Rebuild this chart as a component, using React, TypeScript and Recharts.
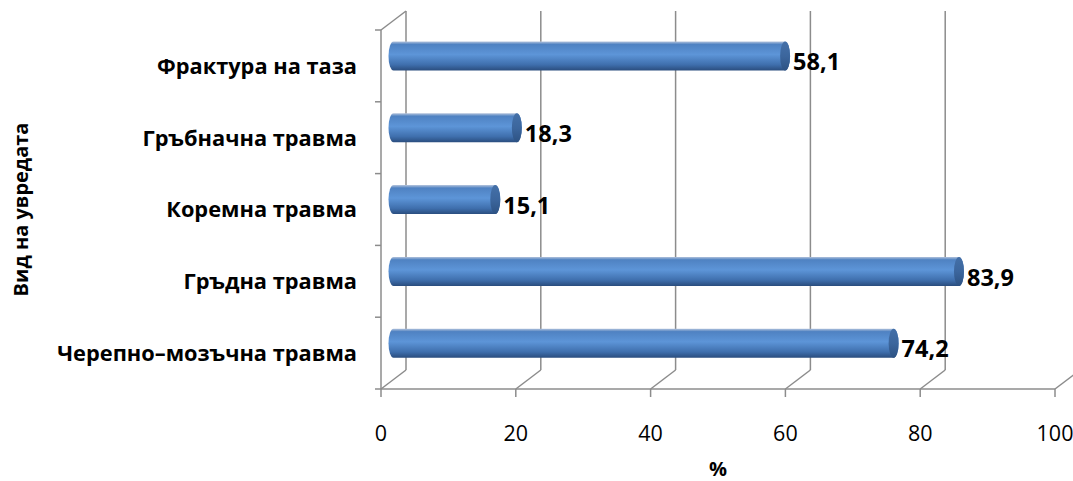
import { BarChart, Bar, XAxis, YAxis, CartesianGrid, LabelList } from 'recharts';

const injuries = [
  'Фрактура на таза',
  'Гръбначна травма',
  'Коремна травма',
  'Гръдна травма',
  'Черепно–мозъчна травма',
];
const percents = [58.1, 18.3, 15.1, 83.9, 74.2];
const xTicks = [0, 20, 40, 60, 80, 100];

const data = injuries.map((name, i) => ({ name, value: percents[i] }));

const W = 1073;
const H = 481;
const AXIS_W = 381;
const TOP = 30;
const BOTTOM = 92;
const PLOT_H = H - TOP - BOTTOM;
const BAND = PLOT_H / injuries.length;

// depth of the fake 3D box
const DX = 25;
const DY = 19;
const GRAY = '#8c8c8c';
const FONT = '"Open Sans", "Noto Sans", sans-serif';

const fmt = (v: number) => String(v).replace('.', ',');

const Cylinder = (props: any) => {
  const { x, y, width, height } = props;
  const x0 = x + DX / 2;
  const x1 = x0 + width;
  const top = y - DY / 2;
  const bot = top + height;
  const rx = 5;
  const ry = height / 2;
  return (
    <g>
      <path
        d={`M${x0},${top} L${x1},${top} A${rx},${ry} 0 0 1 ${x1},${bot} L${x0},${bot} A${rx},${ry} 0 0 1 ${x0},${top} Z`}
        fill="url(#cylBody)"
      />
      <ellipse cx={x1} cy={top + ry} rx={rx} ry={ry} fill="url(#cylCap)" />
    </g>
  );
};

const ValueLabel = (props: any) => {
  const { x, y, width, height, value } = props;
  return (
    <text
      x={x + DX / 2 + width + 8}
      y={y - DY / 2 + height / 2 + 8}
      fontFamily={FONT}
      fontWeight="bold"
      fontSize={23.5}
      fill="#000"
      dominantBaseline="middle"
    >
      {fmt(value)}
    </text>
  );
};

const YTick = (props: any) => {
  const { y, payload, index } = props;
  return (
    <g>
      <text
        x={AXIS_W - 24}
        y={y + 2}
        textAnchor="end"
        dominantBaseline="middle"
        fontFamily={FONT}
        fontWeight="bold"
        fontSize={21.8}
        fill="#000"
      >
        {payload.value}
      </text>
      <line x1={AXIS_W - 6} x2={AXIS_W} y1={y - BAND / 2} y2={y - BAND / 2} stroke={GRAY} strokeWidth={1.5} />
      {index === injuries.length - 1 && (
        <line x1={AXIS_W - 6} x2={AXIS_W} y1={y + BAND / 2} y2={y + BAND / 2} stroke={GRAY} strokeWidth={1.5} />
      )}
    </g>
  );
};

const XTick = (props: any) => {
  const { x, y, payload } = props;
  return (
    <text x={x} y={y + 42} textAnchor="middle" fontFamily={FONT} fontSize={21.5} fill="#000">
      {payload.value}
    </text>
  );
};

// back wall line plus the floor diagonal for every x tick
const BackLine = (props: any) => {
  const { x1, y1, y2, index } = props;
  return (
    <g>
      <line x1={x1 + DX} x2={x1 + DX} y1={y1 - DY} y2={y2 - DY} stroke={GRAY} strokeWidth={1.5} />
      <line x1={x1} x2={x1 + DX} y1={y2} y2={y2 - DY} stroke={GRAY} strokeWidth={1.5} />
      {index === 0 && (
        <line x1={x1} x2={x1 + DX} y1={y1} y2={y1 - DY} stroke={GRAY} strokeWidth={1.5} />
      )}
    </g>
  );
};

export default function App() {
  return (
    <div style={{ position: 'absolute', left: 0, top: 0, width: W, height: H, background: '#fff' }}>
      <BarChart
        width={W}
        height={H}
        data={data}
        layout="vertical"
        margin={{ top: TOP, right: 18, bottom: 0, left: 0 }}
        barSize={29}
      >
        <defs>
          <linearGradient id="cylBody" x1="0" y1="0" x2="0" y2="1">
            <stop offset="0" stopColor="#b3c3dc" />
            <stop offset="0.1" stopColor="#4f82c2" />
            <stop offset="0.45" stopColor="#5d95d8" />
            <stop offset="0.8" stopColor="#3f6fad" />
            <stop offset="1" stopColor="#2a4d7e" />
          </linearGradient>
          <linearGradient id="cylCap" x1="0" y1="0" x2="0" y2="1">
            <stop offset="0" stopColor="#4470a8" />
            <stop offset="0.5" stopColor="#3c669d" />
            <stop offset="1" stopColor="#2d5283" />
          </linearGradient>
        </defs>
        <CartesianGrid horizontal={false} vertical={BackLine} />
        <XAxis
          type="number"
          domain={[0, 100]}
          ticks={xTicks}
          interval={0}
          height={BOTTOM}
          axisLine={{ stroke: GRAY, strokeWidth: 1.5 }}
          tickLine={{ stroke: GRAY, strokeWidth: 1.5 }}
          tickSize={8}
          tick={<XTick />}
          label={{ value: '%', position: 'insideBottom', offset: 5, fontFamily: FONT, fontWeight: 'bold', fontSize: 20, fill: '#000' }}
        />
        <YAxis
          type="category"
          dataKey="name"
          width={AXIS_W}
          axisLine={{ stroke: GRAY, strokeWidth: 1.5 }}
          tickLine={false}
          tick={<YTick />}
          interval={0}
          label={{ value: 'Вид на увредата', angle: -90, position: 'insideLeft', offset: 21, fontFamily: FONT, fontWeight: 'bold', fontSize: 20, fill: '#000', style: { textAnchor: 'middle' } }}
        />
        <Bar dataKey="value" shape={<Cylinder />} isAnimationActive={false}>
          <LabelList dataKey="value" content={<ValueLabel />} />
        </Bar>
      </BarChart>
    </div>
  );
}
